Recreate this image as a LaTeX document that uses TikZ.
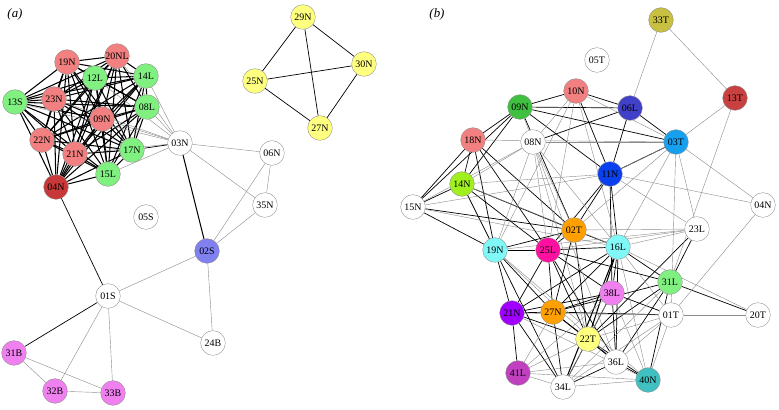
\documentclass[tikz,border=0pt]{standalone}
\usepackage{fontspec}
\setmainfont{Liberation Serif}
\usetikzlibrary{backgrounds}
\definecolor{Salmon}{RGB}{242,128,128}
\definecolor{LGreen}{RGB}{128,240,128}
\definecolor{DRed}{RGB}{200,56,56}
\definecolor{Periwinkle}{RGB}{128,128,240}
\definecolor{LYellow}{RGB}{255,255,128}
\definecolor{Orchid}{RGB}{240,128,240}
\definecolor{MGreen}{RGB}{64,192,64}
\definecolor{Indigo}{RGB}{64,64,200}
\definecolor{SkyBlue}{RGB}{24,160,240}
\definecolor{Brick}{RGB}{200,64,64}
\definecolor{Olive}{RGB}{200,192,64}
\definecolor{RoyalBlue}{RGB}{10,64,240}
\definecolor{Lime}{RGB}{160,240,32}
\definecolor{Amber}{RGB}{255,160,0}
\definecolor{LCyan}{RGB}{128,248,248}
\definecolor{HotPink}{RGB}{255,16,160}
\definecolor{Violet}{RGB}{160,0,255}
\definecolor{Plum}{RGB}{192,64,192}
\definecolor{Teal}{RGB}{64,192,192}

\begin{document}
\begin{tikzpicture}[x=0.3mm, y=-0.3mm,
    every node/.style={font=\fontsize{8.5}{10}\selectfont},
    vtx/.style={circle, draw=black!45, line width=0.3pt, fill=white, minimum size=7.4mm, inner sep=0pt},
    panel/.style={font=\fontsize{11}{13}\selectfont\itshape},
    strong/.style={black, line width=0.6pt},
    heavy/.style={black, line width=0.9pt},
    weak/.style={black!45, line width=0.35pt}]
  \useasboundingbox (0,0) rectangle (779,409);

  % panel (a)
  \node[panel] (lblA) at (15,14) {(a)};
  \node[vtx, fill=Salmon] (a19N) at (67,62) {19N};
  \node[vtx, fill=Salmon] (a20NL) at (117,56) {20NL};
  \node[vtx, fill=LGreen] (a12L) at (95,78) {12L};
  \node[vtx, fill=LGreen] (a14L) at (146,76) {14L};
  \node[vtx, fill=LGreen] (a13S) at (15,102) {13S};
  \node[vtx, fill=Salmon] (a23N) at (54,99) {23N};
  \node[vtx, fill=LGreen] (a08L) at (147,107) {08L};
  \node[vtx, fill=Salmon] (a09N) at (102,119) {09N};
  \node[vtx, fill=Salmon] (a22N) at (42,140) {22N};
  \node[vtx, fill=Salmon] (a21N) at (75,154) {21N};
  \node[vtx, fill=LGreen] (a17N) at (132,150) {17N};
  \node[vtx, fill=LGreen] (a15L) at (108,174) {15L};
  \node[vtx, fill=DRed] (a04N) at (56,187) {04N};
  \node[vtx] (a03N) at (180,143) {03N};
  \node[vtx] (a06N) at (272,153) {06N};
  \node[vtx] (a35N) at (265,205) {35N};
  \node[vtx] (a05S) at (146,217) {05S};
  \node[vtx, fill=Periwinkle] (a02S) at (207,251) {02S};
  \node[vtx] (a01S) at (108,296) {01S};
  \node[vtx] (a24B) at (213,343) {24B};
  \node[vtx, fill=Orchid] (a31B) at (14,353) {31B};
  \node[vtx, fill=Orchid] (a32B) at (55,391) {32B};
  \node[vtx, fill=Orchid] (a33B) at (113,393) {33B};
  \node[vtx, fill=LYellow] (a29N) at (303,17) {29N};
  \node[vtx, fill=LYellow] (a30N) at (364,64) {30N};
  \node[vtx, fill=LYellow] (a25N) at (255,81) {25N};
  \node[vtx, fill=LYellow] (a27N) at (320,128) {27N};

  % panel (b)
  \node[panel] (lblB) at (437,14) {(b)};
  \node[vtx, fill=Olive] (b33T) at (661,20) {33T};
  \node[vtx] (b05T) at (597,60) {05T};
  \node[vtx, fill=Salmon] (b10N) at (576,91) {10N};
  \node[vtx, fill=Brick] (b13T) at (735,98) {13T};
  \node[vtx, fill=MGreen] (b09N) at (520,107) {09N};
  \node[vtx, fill=Indigo] (b06L) at (630,108) {06L};
  \node[vtx, fill=Salmon] (b18N) at (473,140) {18N};
  \node[vtx] (b08N) at (533,142) {08N};
  \node[vtx, fill=SkyBlue] (b03T) at (676,142) {03T};
  \node[vtx, fill=RoyalBlue] (b11N) at (610,174) {11N};
  \node[vtx, fill=Lime] (b14N) at (462,184) {14N};
  \node[vtx] (b15N) at (413,207) {15N};
  \node[vtx] (b04N) at (763,205) {04N};
  \node[vtx, fill=Amber] (b02T) at (574,230) {02T};
  \node[vtx] (b23L) at (697,229) {23L};
  \node[vtx, fill=LCyan] (b19N) at (495,250) {19N};
  \node[vtx, fill=HotPink] (b25L) at (548,250) {25L};
  \node[vtx, fill=LCyan] (b16L) at (618,247) {16L};
  \node[vtx, fill=LGreen] (b31L) at (670,282) {31L};
  \node[vtx, fill=Orchid] (b38L) at (612,293) {38L};
  \node[vtx, fill=Violet] (b21N) at (512,313) {21N};
  \node[vtx, fill=Amber] (b27N) at (553,312) {27N};
  \node[vtx] (b01T) at (671,315) {01T};
  \node[vtx] (b20T) at (758,315) {20T};
  \node[vtx, fill=LYellow] (b22T) at (588,339) {22T};
  \node[vtx] (b36L) at (616,362) {36L};
  \node[vtx, fill=Plum] (b41L) at (518,373) {41L};
  \node[vtx, fill=Teal] (b40N) at (648,380) {40N};
  \node[vtx] (b34L) at (563,387) {34L};

  \begin{scope}[on background layer]
    % dense cluster of (a)
    \foreach \p [count=\i] in {a19N,a20NL,a12L,a14L,a13S,a23N,a08L,a09N,a22N,a21N,a17N,a15L,a04N}
      \foreach \q [count=\j] in {a19N,a20NL,a12L,a14L,a13S,a23N,a08L,a09N,a22N,a21N,a17N,a15L,a04N}
        {\ifnum\j>\i \draw[heavy] (\p) -- (\q); \fi}
    \foreach \p in {a20NL,a14L,a12L,a08L,a09N,a23N,a13S,a15L,a21N}
      \draw[weak] (a03N) -- (\p);
    \draw[strong] (a03N) -- (a17N);
    \draw[heavy] (a03N) -- (a02S);
    \foreach \u/\v in {a03N/a06N, a03N/a35N, a06N/a35N, a06N/a02S, a35N/a02S,
        a02S/a01S, a02S/a24B, a01S/a24B, a01S/a32B, a01S/a33B,
        a31B/a32B, a31B/a33B, a32B/a33B}
      \draw[weak] (\u) -- (\v);
    \draw[strong] (a01S) -- (a04N);
    \draw[strong] (a01S) -- (a31B);
    \foreach \u/\v in {a29N/a25N, a29N/a30N, a29N/a27N, a25N/a30N, a25N/a27N, a30N/a27N}
      \draw[strong] (\u) -- (\v);

    % network of (b)
    \foreach \u/\v in {b09N/b10N, b09N/b18N, b09N/b14N, b09N/b15N, b09N/b06L, b09N/b11N,
        b09N/b03T, b09N/b02T, b10N/b06L, b10N/b11N, b18N/b15N, b18N/b14N,
        b18N/b19N, b18N/b02T, b18N/b25L, b14N/b15N, b14N/b19N, b14N/b02T,
        b14N/b25L, b15N/b02T, b15N/b19N, b06L/b11N, b06L/b03T, b06L/b08N,
        b11N/b02T, b11N/b03T, b11N/b16L, b11N/b25L, b11N/b38L, b02T/b25L,
        b02T/b16L, b02T/b19N, b02T/b27N, b02T/b22T, b19N/b25L, b19N/b21N,
        b19N/b27N, b19N/b34L, b25L/b16L, b25L/b27N, b25L/b21N, b25L/b22T,
        b25L/b31L, b25L/b38L, b25L/b36L, b16L/b38L, b16L/b27N, b16L/b31L,
        b16L/b36L, b16L/b21N, b23L/b31L, b23L/b22T, b31L/b20T, b31L/b22T,
        b31L/b27N, b31L/b40N, b31L/b36L, b38L/b27N, b38L/b21N, b38L/b22T,
        b38L/b36L, b21N/b27N, b21N/b22T, b21N/b34L, b21N/b41L, b27N/b22T,
        b27N/b34L, b27N/b36L, b22T/b34L, b22T/b36L, b22T/b40N, b36L/b40N,
        b36L/b34L, b01T/b38L, b01T/b27N}
      \draw[strong] (\u) -- (\v);
    \draw[heavy] (b16L) -- (b22T);
    \draw[heavy] (b16L) -- (b34L);
    \foreach \u/\v in {b33T/b06L, b33T/b13T, b13T/b03T, b13T/b31L, b03T/b11N,
        b03T/b04N, b03T/b23L, b03T/b16L, b03T/b01T, b03T/b02T, b03T/b08N,
        b03T/b10N, b03T/b18N, b11N/b04N, b11N/b23L, b11N/b15N, b11N/b14N,
        b04N/b01T, b01T/b20T, b01T/b40N, b01T/b21N, b01T/b36L, b01T/b22T,
        b01T/b16L, b01T/b34L, b23L/b25L, b23L/b19N, b23L/b02T, b23L/b16L,
        b08N/b19N, b08N/b25L, b08N/b16L, b08N/b02T, b08N/b14N, b08N/b15N,
        b08N/b22T, b08N/b36L, b08N/b09N, b08N/b10N, b10N/b16L, b10N/b25L,
        b10N/b19N, b41L/b34L, b41L/b27N, b41L/b36L, b41L/b40N, b41L/b22T,
        b41L/b38L, b34L/b40N, b34L/b38L, b34L/b31L, b40N/b16L, b40N/b21N,
        b40N/b19N, b40N/b38L, b16L/b20T, b15N/b16L, b14N/b16L, b19N/b36L}
      \draw[weak] (\u) -- (\v);
  \end{scope}
\end{tikzpicture}
\end{document}
